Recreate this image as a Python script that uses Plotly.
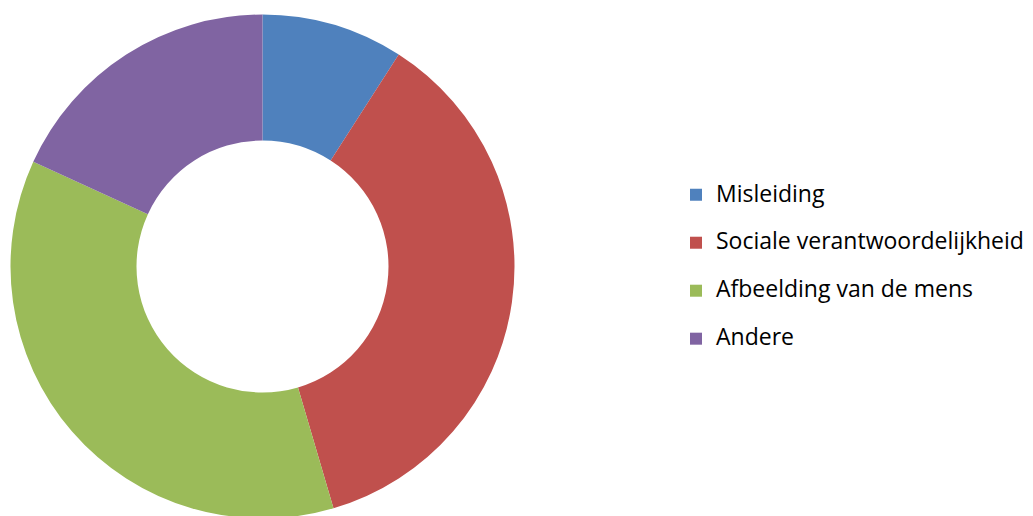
import plotly.graph_objects as go

labels = ["Misleiding", "Sociale verantwoordelijkheid", "Afbeelding van de mens", "Andere"]
values = [1, 4, 4, 2]
colors = ["#4F81BD", "#C0504D", "#9BBB59", "#8064A2"]

W, H = 1033, 533
cx, cy, r = 262.5, 266.5, 252

legend_labels = ['<span style="font-size:23px">%s</span><br> ' % l for l in labels]

fig = go.Figure(go.Pie(
    labels=legend_labels,
    values=values,
    marker=dict(colors=colors, line=dict(width=0)),
    hole=0.5,
    sort=False,
    direction="clockwise",
    rotation=0,
    textinfo="none",
    hoverinfo="percent",
    domain=dict(x=[(cx - r) / W, (cx + r) / W], y=[(H - cy - r) / H, (H - cy + r) / H]),
))

fig.update_layout(
    width=W, height=H, autosize=False,
    margin=dict(l=0, r=0, t=0, b=0),
    paper_bgcolor="white", plot_bgcolor="white",
    font=dict(family="Open Sans, sans-serif", color="#000000"),
    legend=dict(
        x=(696 - 20) / W, xanchor="left",
        y=(H - 177) / H, yanchor="top",
        font=dict(size=17.3, family="Open Sans, sans-serif", color="#000000"),
        valign="top",
        bgcolor="rgba(0,0,0,0)",
    ),
    showlegend=True,
)

fig.write_html("out.html")
